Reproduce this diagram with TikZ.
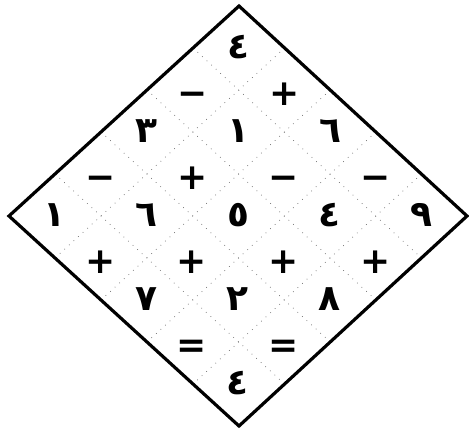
\documentclass[tikz,border=0pt]{standalone}
\usepackage{fontspec}
\usepackage{tikz}
\usetikzlibrary{calc}
\setmainfont{DejaVu Sans}
\newfontfamily\arabicfont[Script=Arabic]{DejaVu Sans}
\tikzset{
  frame/.style={line width=3.2pt,line join=miter},
  gridline/.style={draw=black!60,line width=0.7pt,dash pattern=on 0.7pt off 5.5pt},
  digit/.style={font=\arabicfont\bfseries\fontsize{36}{36}\selectfont,inner sep=0pt,
    text height=26pt,text depth=0pt,yshift=3pt},
  oper/.style={font=\bfseries\fontsize{36}{36}\selectfont,inner sep=0pt,
    text height=27pt,text depth=0pt,yshift=-2pt}
}

\begin{document}
\begin{tikzpicture}[x=1pt,y=-1pt]
  \useasboundingbox (0,0) rectangle (469,429);
  \coordinate (top) at (239,6);
  \coordinate (right) at (467,216);
  \coordinate (bottom) at (239,426);
  \coordinate (left) at (9,216);

  \draw[gridline] ($(top)!0.2!(right)$) -- ($(left)!0.2!(bottom)$);
  \draw[gridline] ($(top)!0.4!(right)$) -- ($(left)!0.4!(bottom)$);
  \draw[gridline] ($(top)!0.6!(right)$) -- ($(left)!0.6!(bottom)$);
  \draw[gridline] ($(top)!0.8!(right)$) -- ($(left)!0.8!(bottom)$);
  \draw[gridline] ($(top)!0.2!(left)$) -- ($(right)!0.2!(bottom)$);
  \draw[gridline] ($(top)!0.4!(left)$) -- ($(right)!0.4!(bottom)$);
  \draw[gridline] ($(top)!0.6!(left)$) -- ($(right)!0.6!(bottom)$);
  \draw[gridline] ($(top)!0.8!(left)$) -- ($(right)!0.8!(bottom)$);

  \draw[frame] (top) -- (right) -- (bottom) -- (left) -- cycle;

  \begin{scope}[shift={(top)},x={(228pt,-210pt)},y={(-230pt,-210pt)}]
    \node[digit] (c00) at (0.1,0.1) {٤};

    \node[oper] (c01) at (0.1,0.3) {−};
    \node[oper] (c10) at (0.3,0.1) {+};

    \node[digit] (c02) at (0.1,0.5) {٣};
    \node[digit] (c11) at (0.3,0.3) {١};
    \node[digit] (c20) at (0.5,0.1) {٦};

    \node[oper] (c03) at (0.1,0.7) {−};
    \node[oper] (c12) at (0.3,0.5) {+};
    \node[oper] (c21) at (0.5,0.3) {−};
    \node[oper] (c30) at (0.7,0.1) {−};

    \node[digit] (c04) at (0.1,0.9) {١};
    \node[digit] (c13) at (0.3,0.7) {٦};
    \node[digit] (c22) at (0.5,0.5) {٥};
    \node[digit] (c31) at (0.7,0.3) {٤};
    \node[digit] (c40) at (0.9,0.1) {٩};

    \node[oper] (c14) at (0.3,0.9) {+};
    \node[oper] (c23) at (0.5,0.7) {+};
    \node[oper] (c32) at (0.7,0.5) {+};
    \node[oper] (c41) at (0.9,0.3) {+};

    \node[digit] (c24) at (0.5,0.9) {٧};
    \node[digit] (c33) at (0.7,0.7) {٢};
    \node[digit] (c42) at (0.9,0.5) {٨};

    \node[oper] (c34) at (0.7,0.9) {=};
    \node[oper] (c43) at (0.9,0.7) {=};

    \node[digit] (c44) at (0.9,0.9) {٤};
  \end{scope}
\end{tikzpicture}
\end{document}
